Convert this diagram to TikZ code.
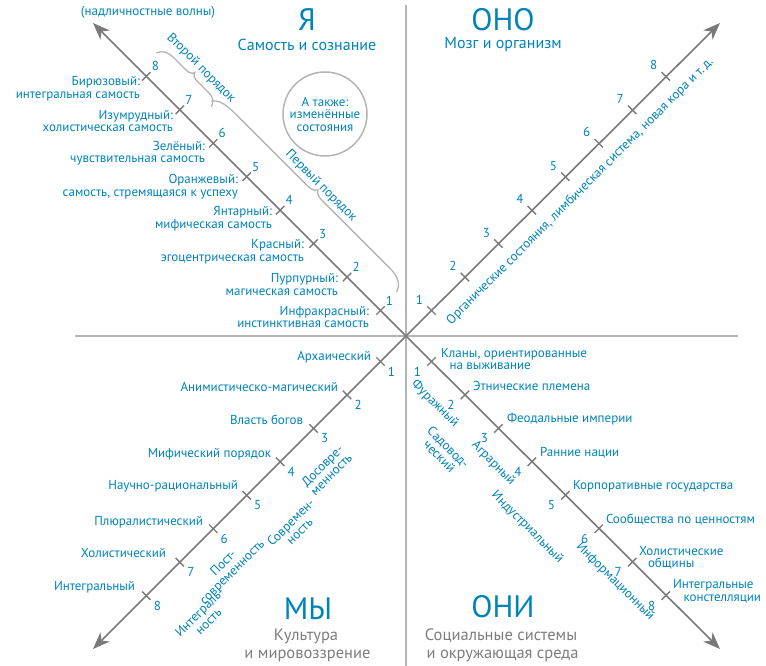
\documentclass[tikz,border=0pt]{standalone}
\usepackage{fontspec}
\setmainfont{PT Sans}
\usetikzlibrary{arrows.meta,calc}
\definecolor{tblue}{RGB}{0,131,184}
\definecolor{tgray}{RGB}{125,125,125}
\definecolor{lgray}{RGB}{180,180,180}
\definecolor{agray}{RGB}{122,122,122}
\begin{document}
\begin{tikzpicture}[x=1pt,y=-1pt,
  every node/.style={inner sep=0pt, outer sep=0pt, text=tblue, font=\fontsize{13}{12.5}\selectfont},
  quad/.style={draw=lgray, line width=2pt},
  diag/.style={draw=agray, line width=1.6pt, -{Stealth[length=17pt,width=13pt,inset=5pt]}},
  tk/.style={draw=agray, line width=1.4pt},
  lbl/.style={align=right, anchor=east},
  lbr/.style={align=left, anchor=west},
  rot/.style={align=center, rotate=#1},
  head/.style={font=\fontsize{31}{31}\selectfont},
  sub/.style={font=\fontsize{16}{18}\selectfont},
  subg/.style={font=\fontsize{16.5}{18}\selectfont, text=tgray},
  brc/.style={draw=lgray, line width=1.3pt},
]
\useasboundingbox (0,0) rectangle (766,666);
\coordinate (O) at (406,336);
\coordinate (vT) at (406,5);
\coordinate (vB) at (406,666);
\coordinate (hL) at (75,336);
\coordinate (hR) at (738,336);
\coordinate (aTL) at (93,23);
\coordinate (aTR) at (720,23);
\coordinate (aBL) at (93,649);
\coordinate (aBR) at (720,649);
\draw[quad] (vT) -- (vB);
\draw[quad] (hL) -- (hR);
\draw[diag] (O) -- (aTL);
\draw[diag] (O) -- (aTR);
\draw[diag] (O) -- (aBL);
\draw[diag] (O) -- (aBR);
\foreach \k in {1,...,8}{
  \pgfmathsetmacro\d{25.5+(\k-1)*33.45}
  \coordinate (TL\k) at (406-\d,336-\d);
  \coordinate (TR\k) at (406+\d,336-\d);
  \coordinate (BL\k) at (406-\d,336+\d);
  \coordinate (BR\k) at (406+\d,336+\d);
  \draw[tk] ($(TL\k)+(-4.24,4.24)$) -- ($(TL\k)+(4.24,-4.24)$);
  \draw[tk] ($(TR\k)+(-4.24,-4.24)$) -- ($(TR\k)+(4.24,4.24)$);
  \draw[tk] ($(BL\k)+(-4.24,-4.24)$) -- ($(BL\k)+(4.24,4.24)$);
  \draw[tk] ($(BR\k)+(-4.24,4.24)$) -- ($(BR\k)+(4.24,-4.24)$);
  \node (nTL\k) at ($(TL\k)+(9,-10)$) {\k};
  \node (nTR\k) at ($(TR\k)+(-12,-11)$) {\k};
  \node (nBL\k) at ($(BL\k)+(11,10)$) {\k};
  \node (nBR\k) at ($(BR\k)+(-14,10)$) {\k};
}
% headings
\node[head] (ya) at (307,20) {Я};
\node[sub] (yaS) at (307,45) {Самость и сознание};
\node[head] (ono) at (503,20) {ОНО};
\node[sub] (onoS) at (503,45) {Мозг и организм};
\node[head] (my) at (308,609) {МЫ};
\node[subg] (myS1) at (306,636) {Культура};
\node[subg] (myS2) at (307.5,656) {и мировоззрение};
\node[head] (oni) at (503,607) {ОНИ};
\node[subg] (oniS1) at (501,636) {Социальные системы};
\node[subg] (oniS2) at (502.5,656) {и окружающая среда};
\node (trans) at (148,12) {(надличностные волны)};
% circle
\node[draw=lgray, line width=1.5pt, circle, minimum size=84pt, align=center] (alt) at (325,114) {А также:\\изменённые\\состояния};
% braces
\begin{scope}[x={(0.70711pt,-0.70711pt)}, y={(0.70711pt,0.70711pt)}]
\draw[brc] (148,73) .. controls (151,80) and (156,82) .. (163,82) -- (180,82) .. controls (185,82) and (188,83) .. (189,86.5) .. controls (190,83) and (193,82) .. (198,82) -- (214,82) .. controls (220,82) and (223,79) .. (225,74);
\draw[brc] (221,78) .. controls (226,85) and (235,86) .. (250,86) -- (347,86) .. controls (354,86) and (357,87) .. (359,90.5) .. controls (361,87) and (364,86) .. (371,86) -- (465,86) .. controls (478,86) and (484,82) .. (487,74);
\end{scope}
\node[rot=-45] (ord2) at (201,68) {Второй порядок};
\node[rot=-45] (ord1) at (321,186) {Первый порядок};
% top-left labels
\node[lbl] (l8) at (140,88.5) {Бирюзовый:\\интегральная самость};
\node[lbl] (l7) at (173,121) {Изумрудный:\\холистическая самость};
\node[lbl] (l6) at (205,153) {Зелёный:\\чувствительная самость};
\node[lbl] (l5) at (238,186.5) {Оранжевый:\\самость, стремящаяся к успеху};
\node[lbl] (l4) at (272,218.5) {Янтарный:\\мифическая самость};
\node[lbl] (l3) at (304,251.5) {Красный:\\эгоцентрическая самость};
\node[lbl] (l2) at (338,284.5) {Пурпурный:\\магическая самость};
\node[lbl] (l1) at (369,317) {Инфракрасный:\\инстинктивная самость};
% top-right
\node[rot=45] (org) at (580,191.5) {Органические состояния, лимбическая система, новая кора и т.\,д.};
% bottom-left labels
\node[lbl] (c1) at (371,356.7) {Архаический};
\node[lbl] (c2) at (338,387) {Анимистическо-магический};
\node[lbl] (c3) at (303,420) {Власть богов};
\node[lbl] (c4) at (271,454) {Мифический порядок};
\node[lbl] (c5) at (238,486) {Научно-рациональный};
\node[lbl] (c6) at (203,522) {Плюралистический};
\node[lbl] (c7) at (166,553) {Холистический};
\node[lbl] (c8) at (135,587) {Интегральный};
\node[rot=45] (e1) at (326.7,470) {Досовре-\\менность};
\node[rot=45] (e2) at (295,526.7) {Современ-\\ность};
\node[rot=45] (e3) at (228.3,568.3) {Пост-\\современность};
\node[rot=45] (e4) at (204,616.7) {Интеграль-\\ность};
% bottom-right labels
\node[lbr] (s1) at (441,359) {Кланы, ориентированные\\\hspace*{8.5pt}на выживание};
\node[lbr] (s2) at (473,386) {Этнические племена};
\node[lbr] (s3) at (507,419) {Феодальные империи};
\node[lbr] (s4) at (540,453) {Ранние нации};
\node[lbr] (s5) at (573,486) {Корпоративные государства};
\node[lbr] (s6) at (606,520) {Сообщества по ценностям};
\node[lbr] (s7) at (639,558) {Холистические\\\hspace*{9pt}общины};
\node[lbr] (s8) at (673,591.5) {Интегральные\\\hspace*{10.5pt}констелляции};
\node[rot=-45] (t1) at (435,404) {Фуражный};
\node[rot=-45] (t2) at (444,451.7) {Садовод-\\ческий};
\node[rot=-45] (t3) at (493.3,463.3) {Аграрный};
\node[rot=-45] (t4) at (527.3,527.3) {Индустриальный};
\node[rot=-45] (t5) at (615,581.7) {Информационный};
\end{tikzpicture}
\end{document}
